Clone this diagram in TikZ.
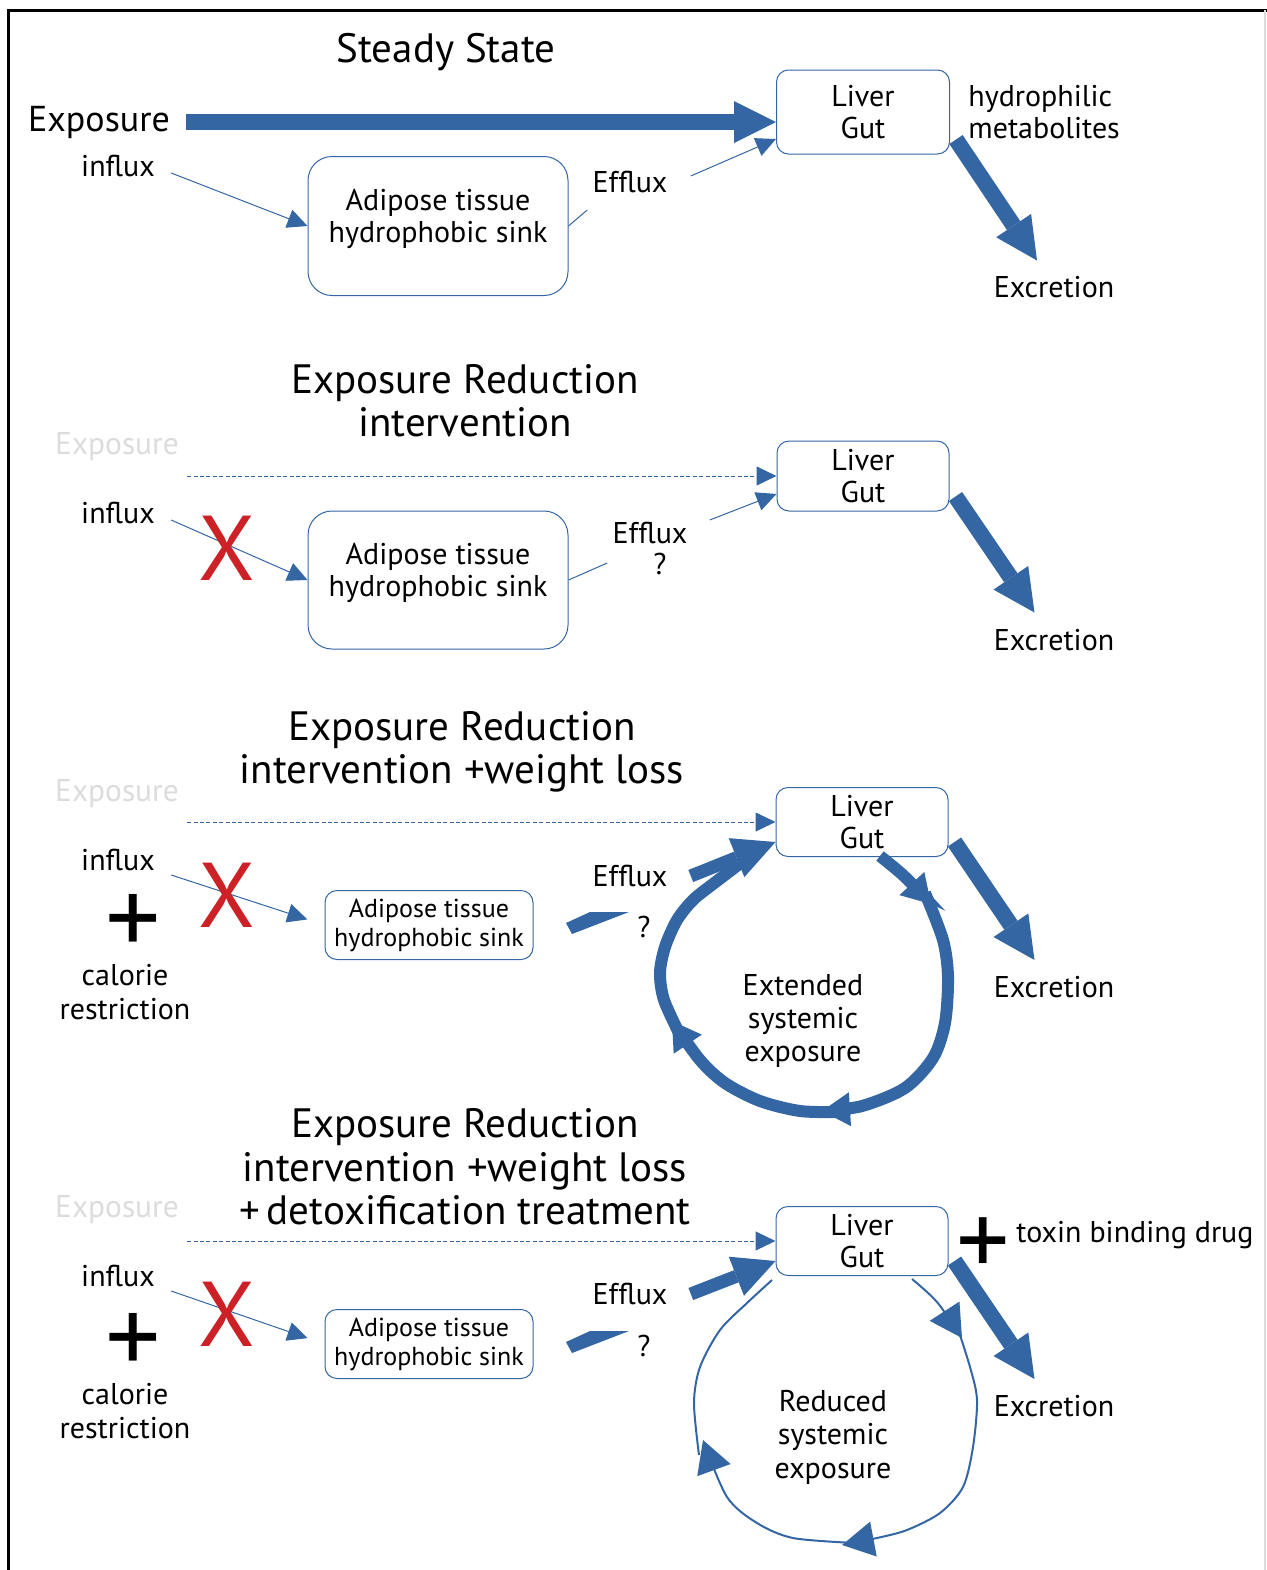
\documentclass[tikz,border=0pt]{standalone}
\usepackage{fontspec}
\setmainfont{PT Sans}
\usetikzlibrary{arrows.meta}

\definecolor{flowblue}{RGB}{52,102,164}
\definecolor{crossred}{RGB}{204,33,39}
\definecolor{fadegray}{RGB}{220,220,220}

\newcommand{\titlesize}{\fontsize{20.5}{21.7}\selectfont}
\newcommand{\labsize}{\fontsize{15}{16.2}\selectfont}
\newcommand{\sinksize}{\fontsize{13}{14.5}\selectfont}

\tikzstyle{txt}=[inner sep=0pt,font=\labsize,align=center]
\tikzstyle{heading}=[inner sep=0pt,font=\titlesize,align=center]
\tikzstyle{ghost}=[txt,text=fadegray,font=\fontsize{15.7}{16.5}\selectfont]
\tikzstyle{organ}=[draw=flowblue,line width=0.5pt,rounded corners=6pt,font=\labsize,align=center,inner sep=0pt]
\tikzstyle{sink}=[organ,rounded corners=12pt]
\tikzstyle{smallsink}=[organ,font=\sinksize,minimum width=104pt,minimum height=34.5pt]
\tikzstyle{cross}=[inner sep=0pt,text=crossred,font=\fontsize{46}{46}\selectfont]
\tikzstyle{plus}=[inner sep=0pt,font=\fontsize{55}{55}\selectfont]
\tikzstyle{thinflow}=[flowblue,line width=0.5pt,-{Triangle[length=10pt,width=9.5pt]}]
\tikzstyle{dashflow}=[thinflow,dash pattern=on 2pt off 1.2pt]
\tikzstyle{bigflow}=[flowblue,line width=8pt,-{Triangle[length=21pt,width=21pt,line width=0pt]}]
\tikzstyle{midflow}=[flowblue,line width=6.5pt,-{Triangle[length=21pt,width=21pt,line width=0pt]}]
\tikzstyle{ring}=[flowblue,line width=6pt,-{Triangle[length=14pt,width=17pt,line width=0pt]}]
\tikzstyle{thinring}=[flowblue,line width=1pt,-{Triangle[length=16pt,width=17.5pt]}]

\begin{document}
\begin{tikzpicture}[x=0.5pt,y=-0.5pt]
\useasboundingbox (0,0) rectangle (1267,1570);
\draw[line width=1.5pt] (8,1570) -- (8,10) -- (1267,10);
\draw[fadegray,line width=1pt] (1265,10) -- (1265,1570);

% steady state
\node[heading] (t1) at (446,52) {Steady State};
\node[txt,font=\fontsize{18}{19}\selectfont] (exp1) at (99,122) {Exposure};
\node[organ,minimum width=86.5pt,minimum height=42pt] (liv1) at (863,112) {Liver\\Gut};
\node[sink,minimum width=130pt,minimum height=69.5pt] (sink1) at (438,226) {Adipose tissue\\hydrophobic sink\\[-6pt]\mbox{}};
\node[txt] (in1) at (118,166) {influx};
\node[txt] (ef1) at (630,182) {Efflux};
\node[txt,anchor=west,align=left] (met1) at (968,112) {hydrophilic\\metabolites};
\node[txt] (exc1) at (1054,287) {Excretion};
\draw[bigflow,shorten <=8pt] (exp1.east) -- (exp1.east -| liv1.west);
\draw[thinflow] ([shift={(16,7)}]in1.east) -- (sink1.west);
\draw[flowblue,line width=0.5pt] (sink1.east) -- ([shift={(-5,28)}]ef1.west);
\draw[thinflow] ([shift={(23,-6)}]ef1.east) -- ([shift={(0,27)}]liv1.west);
\draw[bigflow] ([shift={(6,-15)}]liv1.south east) -- ([shift={(87,106)}]liv1.south east);

% exposure reduction
\node[heading] (t2) at (465,401) {Exposure Reduction\\intervention};
\node[ghost] (exp2) at (117,447) {Exposure};
\node[organ,minimum width=86pt,minimum height=35pt] (liv2) at (863,476) {Liver\\Gut};
\node[sink,minimum width=130pt,minimum height=69pt] (sink2) at (438,580) {Adipose tissue\\hydrophobic sink\\[-6pt]\mbox{}};
\node[txt] (in2) at (118,513) {influx};
\node[txt] (ef2) at (650,533) {Efflux};
\node[txt] (q2) at (660,564) {?};
\node[txt] (exc2) at (1054,640) {Excretion};
\draw[dashflow] ([xshift=4pt]liv2.west -| exp2.east) -- (liv2.west);
\draw[thinflow] ([shift={(16,7)}]in2.east) -- (sink2.west);
\node[cross] (no2) at (227,548) {X};
\draw[flowblue,line width=0.5pt] (sink2.east) -- ([shift={(-5,30)}]ef2.west);
\draw[thinflow] ([shift={(22,-13)}]ef2.east) -- ([shift={(0,18)}]liv2.west);
\draw[bigflow] ([shift={(6,-15)}]liv2.south east) -- ([shift={(85,101)}]liv2.south east);

% + weight loss
\node[heading] (t3) at (462,752) {Exposure Reduction\\intervention +weight loss};
\node[ghost] (exp3) at (117,794) {Exposure};
\node[organ,minimum width=86pt,minimum height=34.5pt] (liv3) at (862,822) {Liver\\Gut};
\node[smallsink] (sink3) at (429,925) {Adipose tissue\\hydrophobic sink};
\node[txt] (in3) at (118,860) {influx};
\node[plus] (pl3) at (133,925) {+};
\node[txt,font=\fontsize{15}{17}\selectfont] (cal3) at (125,992) {calorie\\restriction};
\node[txt] (ef3) at (630,876) {Efflux};
\node[txt] (q3) at (644,927) {?};
\node[txt,font=\fontsize{15}{16.7}\selectfont] (ext3) at (803,1021) {Extended\\systemic\\exposure};
\node[txt] (exc3) at (1054,987) {Excretion};
\draw[dashflow] ([xshift=4pt]liv3.west -| exp3.east) -- (liv3.west);
\draw[thinflow,shorten >=9pt] ([shift={(16,15)}]in3.east) -- (sink3.west);
\node[cross] (no3) at (227,895) {X};
\fill[flowblue] (566,923) -- (590,912) -- (629,912) -- (572,934) -- cycle;
\draw[midflow] ([shift={(23,0)}]ef3.east) -- ([shift={(0,20)}]liv3.west);
\draw[ring] plot[smooth] coordinates {(880,856) (904,876) (931,904)};
\draw[ring] plot[smooth] coordinates {(925,893) (943,940) (948,977) (945,1023) (933,1058) (905,1088) (862,1106) (822,1111)};
\draw[ring] plot[smooth] coordinates {(840,1112) (800,1111) (760,1101) (725,1083) (700,1060) (672,1021)};
\draw[flowblue,line width=6pt] plot[smooth] coordinates {(680,1035) (664,1000) (660,973) (665,947) (677,920) (693,900) (713,884) (742,862)};
\draw[bigflow] ([shift={(6,-15)}]liv3.south east) -- ([shift={(86,103)}]liv3.south east);

% + detoxification
\node[heading] (t4) at (465,1167) {Exposure Reduction\\intervention +weight loss\\+\,detoxification treatment};
\node[ghost] (exp4) at (117,1210) {Exposure};
\node[organ,minimum width=86pt,minimum height=34.5pt] (liv4) at (862,1241) {Liver\\Gut};
\node[plus,font=\fontsize{53}{53}\selectfont] (pl4d) at (983,1247) {+};
\node[txt,anchor=west] (drug4) at (1016,1235) {toxin binding drug};
\node[smallsink] (sink4) at (429,1344) {Adipose tissue\\hydrophobic sink};
\node[txt] (in4) at (118,1276) {influx};
\node[plus] (pl4) at (133,1344) {+};
\node[txt,font=\fontsize{15}{17}\selectfont] (cal4) at (125,1411) {calorie\\restriction};
\node[txt] (ef4) at (630,1294) {Efflux};
\node[txt] (q4) at (644,1346) {?};
\node[txt,font=\fontsize{15}{16.7}\selectfont] (red4) at (833,1437) {Reduced\\systemic\\exposure};
\node[txt] (exc4) at (1054,1406) {Excretion};
\draw[dashflow] ([xshift=4pt]liv4.west -| exp4.east) -- (liv4.west);
\draw[thinflow,shorten >=9pt] ([shift={(16,15)}]in4.east) -- (sink4.west);
\node[cross] (no4) at (227,1314) {X};
\fill[flowblue] (566,1342) -- (590,1331) -- (629,1331) -- (572,1353) -- cycle;
\draw[midflow] ([shift={(23,0)}]ef4.east) -- ([shift={(0,20)}]liv4.west);
\draw[thinring] plot[smooth] coordinates {(912,1279) (937,1302) (962,1338)};
\draw[thinring] plot[smooth] coordinates {(957,1326) (970,1367) (977,1400) (973,1447) (963,1487) (940,1513) (907,1530) (877,1538) (842,1545)};
\draw[thinring] plot[smooth] coordinates {(855,1543) (793,1538) (757,1523) (727,1497) (703,1440)};
\draw[flowblue,line width=1pt] plot[smooth] coordinates {(699,1455) (694,1403) (700,1367) (720,1330) (747,1303) (772,1280)};
\draw[bigflow] ([shift={(6,-15)}]liv4.south east) -- ([shift={(86,103)}]liv4.south east);
\end{tikzpicture}
\end{document}
